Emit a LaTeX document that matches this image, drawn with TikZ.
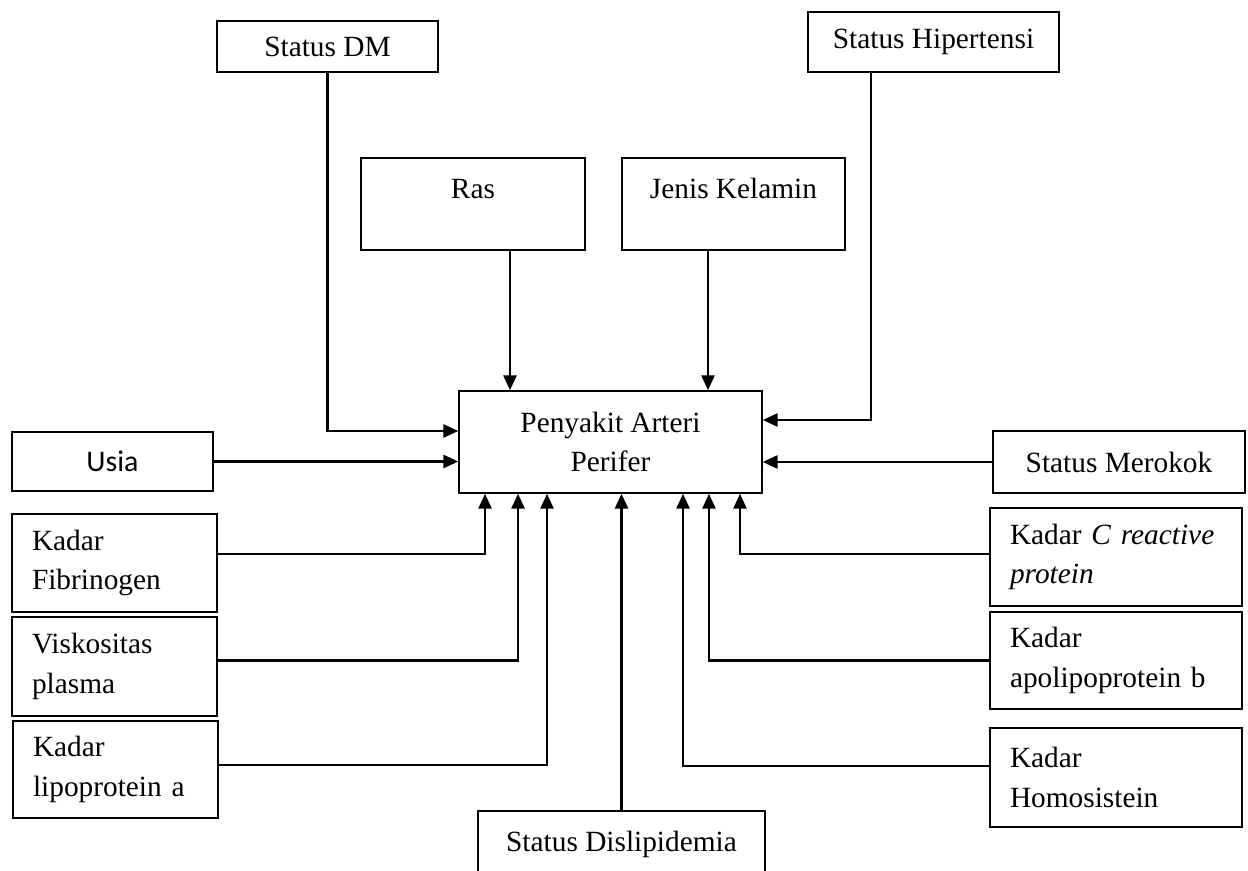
\documentclass[tikz,border=0pt]{standalone}
\usepackage{fontspec}
\setmainfont{Liberation Serif}
\newfontfamily\usiafont{Carlito}
\usepackage{tikz}
\usetikzlibrary{shapes.geometric, arrows.meta}
\tikzstyle{factor} = [rectangle, text centered, draw=black, line width=0.9pt, inner sep=0pt, font=\fontsize{16.7}{22.7}\selectfont]
\tikzstyle{factortop} = [factor, text height=22.7pt, text depth=29.5pt]
\tikzstyle{factorleft} = [factor, text width=3.3cm, inner xsep=0.4cm, align=left]
\tikzstyle{factorright} = [factor, text width=4.24cm, inner xsep=0.4cm, align=left]
\tikzstyle{outcome} = [factor, align=center, minimum width=6.06cm, minimum height=2.04cm]
\tikzstyle{arrow} = [line width=1.3pt, -{Triangle[length=8.5pt, width=7.5pt]}]

\begin{document}
\begin{tikzpicture}[x=0.02cm, y=-0.02cm]
			\useasboundingbox (0,0) rectangle (1248,871);
			\node (pap) [outcome] at (610.5,442) {Penyakit Arteri\\Perifer};
			\node (dm) [factor, minimum width=4.42cm, minimum height=1.02cm] at (327.5,46.5) {Status DM};
			\node (hip) [factor, minimum width=5.02cm, minimum height=1.2cm] at (933.5,42) {Status Hipertensi};
			\node (ras) [factortop, minimum width=4.48cm] at (473,204) {Ras};
			\node (jk) [factortop, minimum width=4.46cm] at (733.5,204) {Jenis Kelamin};
			\node (usia) [factor, minimum width=4.02cm, minimum height=1.18cm, font=\usiafont\fontsize{17}{20}\selectfont] at (112.5,461.5) {Usia};
			\node (merokok) [factor, minimum width=5.04cm, minimum height=1.24cm] at (1119,462) {Status Merokok};
			\node (fib) [factorleft, minimum height=1.96cm] at (114.5,563) {Kadar\\Fibrinogen};
			\node (visk) [factorleft, minimum height=1.98cm] at (114.5,666.5) {Viskositas\\plasma};
			\node (lipa) [factorleft, minimum height=1.94cm] at (115.5,769.5) {Kadar\\lipoprotein a};
			\node (crp) [factorright, minimum height=1.96cm] at (1116,557) {Kadar \textit{C reactive}\\\textit{protein}};
			\node (apob) [factorright, minimum height=1.94cm] at (1116,660.5) {Kadar\\apolipoprotein b};
			\node (homo) [factorright, minimum height=1.98cm] at (1116,777.5) {Kadar\\Homosistein};
			\node (dis) [factor, minimum width=5.74cm, minimum height=1.32cm] at (621.5,844) {Status Dislipidemia};

			\draw [arrow] (dm.south) |- ([yshift=0.22cm]pap.west);
			\draw [arrow] ([xshift=-1.25cm]hip.south) |- ([yshift=0.44cm]pap.east);
			\draw [arrow] ([xshift=0.74cm]ras.south) -- ([xshift=0.74cm]ras.south |- pap.north);
			\draw [arrow] ([xshift=-0.51cm]jk.south) -- ([xshift=-0.51cm]jk.south |- pap.north);
			\draw [arrow] (usia.east) -- (usia.east -| pap.west);
			\draw [arrow] (merokok.west) -- (merokok.west -| pap.east);
			\draw [arrow] ([yshift=0.18cm]fib.east) -| ([xshift=-2.51cm]pap.south);
			\draw [arrow] ([yshift=0.12cm]visk.east) -| ([xshift=-1.85cm]pap.south);
			\draw [arrow] ([yshift=0.09cm]lipa.east) -| ([xshift=-1.27cm]pap.south);
			\draw [arrow] (dis.north) -- (dis.north |- pap.south);
			\draw [arrow] ([yshift=0.06cm]crp.west) -| ([xshift=2.59cm]pap.south);
			\draw [arrow] (apob.west) -| ([xshift=1.97cm]pap.south);
			\draw [arrow] ([yshift=0.23cm]homo.west) -| ([xshift=1.45cm]pap.south);
		\end{tikzpicture}
\end{document}
